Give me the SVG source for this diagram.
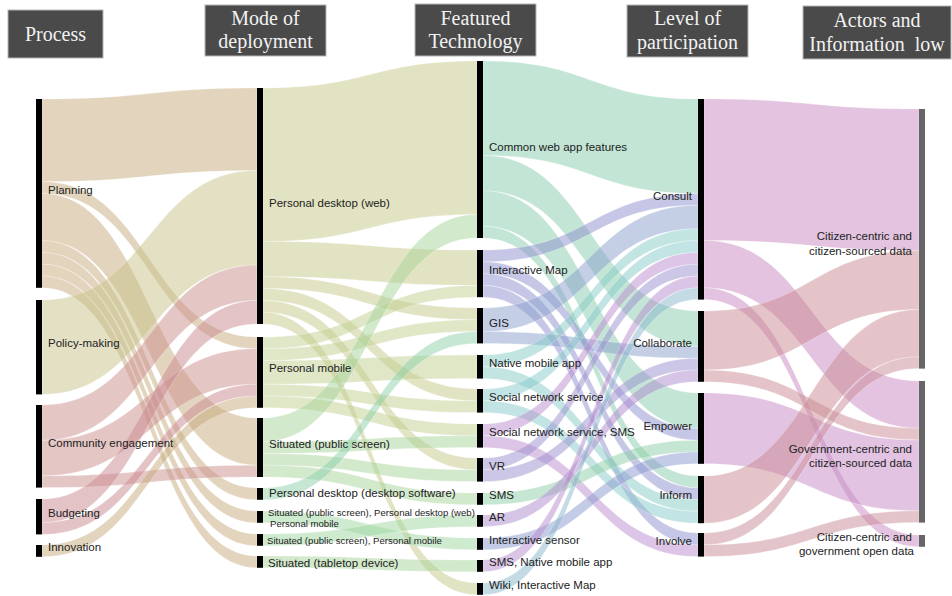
<svg xmlns="http://www.w3.org/2000/svg" width="952" height="596" viewBox="0 0 952 596">
<style>
.lk path{fill-opacity:0.5;stroke:#fff;stroke-width:0.5;stroke-opacity:0.5}
.bar{fill:#000}
.abar{fill:#666}
.lb{font-family:"Liberation Sans",Arial,sans-serif;font-size:11.5px;fill:#222}
.sm{font-size:9.6px}
.end{text-anchor:end}
.hb{fill:#4a4a4a;stroke:#b5b5b5;stroke-width:1}
.ht{font-family:"Liberation Serif","Times New Roman",serif;font-size:20px;fill:#f2f2f2;text-anchor:middle}
.pl{fill:#c5aa7c}.po{fill:#c8c28a}.co{fill:#ca8d8c}.bu{fill:#c98790}.in{fill:#c5aa7c}
.pdw{fill:#c6c886}.pm{fill:#bfd08f}.sps{fill:#a8d39a}.pdd{fill:#8ccfa8}.spd{fill:#9ed6a0}.spm{fill:#9ed6a0}.tab{fill:#a8d39a}
.cwa{fill:#86cbab}.im{fill:#8d90cd}.gis{fill:#8aa0cd}.nma{fill:#86cbc6}.sns{fill:#86c9c9}.ss{fill:#b98bcd}.vr{fill:#9a90cd}.sms{fill:#8ccda6}.ar{fill:#ad89cd}.sen{fill:#8a98cd}.smn{fill:#b58bcd}.wiki{fill:#8ab8cd}
.cons{fill:#c787c0}.coll{fill:#ca8a92}.emp{fill:#c589c6}.inf{fill:#ca8a94}.inv{fill:#ca8a98}
</style>
<rect width="952" height="596" fill="#fff"/>
<g id="headers">
<g id="h-process"><rect class="hb" x="8" y="10" width="95" height="48"/><text class="ht" x="55.5" y="41">Process</text></g>
<g id="h-mode"><rect class="hb" x="205" y="5" width="121" height="51"/><text class="ht" x="265.5" y="25">Mode of</text><text class="ht" x="265.5" y="48">deployment</text></g>
<g id="h-tech"><rect class="hb" x="415" y="4" width="121" height="52"/><text class="ht" x="475.5" y="25">Featured</text><text class="ht" x="475.5" y="48">Technology</text></g>
<g id="h-level"><rect class="hb" x="627" y="5" width="121" height="52"/><text class="ht" x="687.5" y="25">Level of</text><text class="ht" x="687.5" y="49">participation</text></g>
<g id="h-actors"><rect class="hb" x="803" y="6" width="148" height="53"/><text class="ht" x="877" y="27">Actors and</text><text class="ht" x="877" y="51" style="white-space:pre">Information  low</text></g>
</g>
<g id="links" class="lk">
<path class="pl" d="M42,99C149.5,99 149.5,88 257,88L257,170.6C149.5,170.6 149.5,181.6 42,181.6Z"/>
<path class="pl" d="M42,181.6C149.5,181.6 149.5,337 257,337L257,348.8C149.5,348.8 149.5,193.4 42,193.4Z"/>
<path class="pl" d="M42,193.4C149.5,193.4 149.5,418 257,418L257,465.2C149.5,465.2 149.5,240.6 42,240.6Z"/>
<path class="pl" d="M42,240.6C149.5,240.6 149.5,488 257,488L257,499.8C149.5,499.8 149.5,252.4 42,252.4Z"/>
<path class="pl" d="M42,252.4C149.5,252.4 149.5,511 257,511L257,522.8C149.5,522.8 149.5,264.2 42,264.2Z"/>
<path class="pl" d="M42,264.2C149.5,264.2 149.5,534 257,534L257,545.8C149.5,545.8 149.5,276 42,276Z"/>
<path class="pl" d="M42,276C149.5,276 149.5,556 257,556L257,567.8C149.5,567.8 149.5,287.8 42,287.8Z"/>
<path class="po" d="M42,300C149.5,300 149.5,170.6 257,170.6L257,265C149.5,265 149.5,394.4 42,394.4Z"/>
<path class="co" d="M42,405C149.5,405 149.5,265 257,265L257,300.4C149.5,300.4 149.5,440.4 42,440.4Z"/>
<path class="co" d="M42,440.4C149.5,440.4 149.5,348.8 257,348.8L257,384.2C149.5,384.2 149.5,475.8 42,475.8Z"/>
<path class="co" d="M42,475.8C149.5,475.8 149.5,465.2 257,465.2L257,477C149.5,477 149.5,487.6 42,487.6Z"/>
<path class="bu" d="M42,499C149.5,499 149.5,300.4 257,300.4L257,324C149.5,324 149.5,522.6 42,522.6Z"/>
<path class="bu" d="M42,522.6C149.5,522.6 149.5,384.2 257,384.2L257,396C149.5,396 149.5,534.4 42,534.4Z"/>
<path class="in" d="M42,545C149.5,545 149.5,396 257,396L257,407.8C149.5,407.8 149.5,556.8 42,556.8Z"/>
<path class="pdw" d="M263,88C370,88 370,61 477,61L477,214.4C370,214.4 370,241.4 263,241.4Z"/>
<path class="pdw" d="M263,241.4C370,241.4 370,250 477,250L477,285.4C370,285.4 370,276.8 263,276.8Z"/>
<path class="pdw" d="M263,276.8C370,276.8 370,308 477,308L477,319.8C370,319.8 370,288.6 263,288.6Z"/>
<path class="pdw" d="M263,288.6C370,288.6 370,389 477,389L477,400.8C370,400.8 370,300.4 263,300.4Z"/>
<path class="pdw" d="M263,300.4C370,300.4 370,458 477,458L477,469.8C370,469.8 370,312.2 263,312.2Z"/>
<path class="pdw" d="M263,312.2C370,312.2 370,583 477,583L477,594.8C370,594.8 370,324 263,324Z"/>
<path class="pm" d="M263,337C370,337 370,285.4 477,285.4L477,297.2C370,297.2 370,348.8 263,348.8Z"/>
<path class="pm" d="M263,348.8C370,348.8 370,319.8 477,319.8L477,331.6C370,331.6 370,360.6 263,360.6Z"/>
<path class="pm" d="M263,360.6C370,360.6 370,355 477,355L477,378.6C370,378.6 370,384.2 263,384.2Z"/>
<path class="pm" d="M263,384.2C370,384.2 370,400.8 477,400.8L477,412.6C370,412.6 370,396 263,396Z"/>
<path class="pm" d="M263,396C370,396 370,424 477,424L477,435.8C370,435.8 370,407.8 263,407.8Z"/>
<path class="sps" d="M263,418C370,418 370,214.4 477,214.4L477,238C370,238 370,441.6 263,441.6Z"/>
<path class="sps" d="M263,441.6C370,441.6 370,435.8 477,435.8L477,447.6C370,447.6 370,453.4 263,453.4Z"/>
<path class="sps" d="M263,453.4C370,453.4 370,469.8 477,469.8L477,481.6C370,481.6 370,465.2 263,465.2Z"/>
<path class="sps" d="M263,465.2C370,465.2 370,493 477,493L477,504.8C370,504.8 370,477 263,477Z"/>
<path class="pdd" d="M263,488C370,488 370,331.6 477,331.6L477,343.4C370,343.4 370,499.8 263,499.8Z"/>
<path class="spd" d="M263,511C370,511 370,538 477,538L477,549.8C370,549.8 370,522.8 263,522.8Z"/>
<path class="spm" d="M263,534C370,534 370,515 477,515L477,526.8C370,526.8 370,545.8 263,545.8Z"/>
<path class="tab" d="M263,556C370,556 370,560 477,560L477,571.8C370,571.8 370,567.8 263,567.8Z"/>
<path class="cwa" d="M483,61C590.5,61 590.5,99 698,99L698,193.4C590.5,193.4 590.5,155.4 483,155.4Z"/>
<path class="cwa" d="M483,155.4C590.5,155.4 590.5,311 698,311L698,346.4C590.5,346.4 590.5,190.8 483,190.8Z"/>
<path class="cwa" d="M483,190.8C590.5,190.8 590.5,393 698,393L698,428.4C590.5,428.4 590.5,226.2 483,226.2Z"/>
<path class="cwa" d="M483,226.2C590.5,226.2 590.5,476 698,476L698,487.8C590.5,487.8 590.5,238 483,238Z"/>
<path class="im" d="M483,250C590.5,250 590.5,193.4 698,193.4L698,205.2C590.5,205.2 590.5,261.8 483,261.8Z"/>
<path class="im" d="M483,261.8C590.5,261.8 590.5,428.4 698,428.4L698,440.2C590.5,440.2 590.5,273.6 483,273.6Z"/>
<path class="im" d="M483,273.6C590.5,273.6 590.5,487.8 698,487.8L698,499.6C590.5,499.6 590.5,285.4 483,285.4Z"/>
<path class="im" d="M483,285.4C590.5,285.4 590.5,533 698,533L698,544.8C590.5,544.8 590.5,297.2 483,297.2Z"/>
<path class="gis" d="M483,308C590.5,308 590.5,205.2 698,205.2L698,228.8C590.5,228.8 590.5,331.6 483,331.6Z"/>
<path class="gis" d="M483,331.6C590.5,331.6 590.5,346.4 698,346.4L698,358.2C590.5,358.2 590.5,343.4 483,343.4Z"/>
<path class="nma" d="M483,355C590.5,355 590.5,228.8 698,228.8L698,240.6C590.5,240.6 590.5,366.8 483,366.8Z"/>
<path class="nma" d="M483,366.8C590.5,366.8 590.5,499.6 698,499.6L698,511.4C590.5,511.4 590.5,378.6 483,378.6Z"/>
<path class="sns" d="M483,389C590.5,389 590.5,240.6 698,240.6L698,252.4C590.5,252.4 590.5,400.8 483,400.8Z"/>
<path class="sns" d="M483,400.8C590.5,400.8 590.5,511.4 698,511.4L698,523.2C590.5,523.2 590.5,412.6 483,412.6Z"/>
<path class="ss" d="M483,424C590.5,424 590.5,252.4 698,252.4L698,264.2C590.5,264.2 590.5,435.8 483,435.8Z"/>
<path class="ss" d="M483,435.8C590.5,435.8 590.5,544.8 698,544.8L698,556.6C590.5,556.6 590.5,447.6 483,447.6Z"/>
<path class="vr" d="M483,458C590.5,458 590.5,264.2 698,264.2L698,276C590.5,276 590.5,469.8 483,469.8Z"/>
<path class="vr" d="M483,469.8C590.5,469.8 590.5,358.2 698,358.2L698,370C590.5,370 590.5,481.6 483,481.6Z"/>
<path class="sms" d="M483,493C590.5,493 590.5,440.2 698,440.2L698,452C590.5,452 590.5,504.8 483,504.8Z"/>
<path class="ar" d="M483,515C590.5,515 590.5,370 698,370L698,381.8C590.5,381.8 590.5,526.8 483,526.8Z"/>
<path class="sen" d="M483,538C590.5,538 590.5,452 698,452L698,463.8C590.5,463.8 590.5,549.8 483,549.8Z"/>
<path class="smn" d="M483,560C590.5,560 590.5,276 698,276L698,287.8C590.5,287.8 590.5,571.8 483,571.8Z"/>
<path class="wiki" d="M483,583C590.5,583 590.5,287.8 698,287.8L698,299.6C590.5,299.6 590.5,594.8 483,594.8Z"/>
<path class="cons" d="M704,99C811.5,99 811.5,109 919,109L919,250.6C811.5,250.6 811.5,240.6 704,240.6Z"/>
<path class="cons" d="M704,240.6C811.5,240.6 811.5,381 919,381L919,428.2C811.5,428.2 811.5,287.8 704,287.8Z"/>
<path class="cons" d="M704,287.8C811.5,287.8 811.5,535 919,535L919,546.8C811.5,546.8 811.5,299.6 704,299.6Z"/>
<path class="coll" d="M704,311C811.5,311 811.5,250.6 919,250.6L919,309.6C811.5,309.6 811.5,370 704,370Z"/>
<path class="coll" d="M704,370C811.5,370 811.5,428.2 919,428.2L919,440C811.5,440 811.5,381.8 704,381.8Z"/>
<path class="emp" d="M704,393C811.5,393 811.5,440 919,440L919,510.8C811.5,510.8 811.5,463.8 704,463.8Z"/>
<path class="inf" d="M704,476C811.5,476 811.5,309.6 919,309.6L919,356.8C811.5,356.8 811.5,523.2 704,523.2Z"/>
<path class="inv" d="M704,533C811.5,533 811.5,356.8 919,356.8L919,368.6C811.5,368.6 811.5,544.8 704,544.8Z"/>
<path class="inv" d="M704,544.8C811.5,544.8 811.5,510.8 919,510.8L919,522.6C811.5,522.6 811.5,556.6 704,556.6Z"/>
</g>
<g id="n-planning"><rect class="bar" x="36" y="99" width="6" height="188.8"/><text class="lb" x="48" y="194">Planning</text></g>
<g id="n-policy"><rect class="bar" x="36" y="300" width="6" height="94.4"/><text class="lb" x="48" y="347">Policy-making</text></g>
<g id="n-community"><rect class="bar" x="36" y="405" width="6" height="82.6"/><text class="lb" x="48" y="447">Community engagement</text></g>
<g id="n-budgeting"><rect class="bar" x="36" y="499" width="6" height="35.4"/><text class="lb" x="48" y="517">Budgeting</text></g>
<g id="n-innovation"><rect class="bar" x="36" y="545" width="6" height="11.8"/><text class="lb" x="48" y="551">Innovation</text></g>
<g id="n-pdweb"><rect class="bar" x="257" y="88" width="6" height="236"/><text class="lb" x="269" y="207">Personal desktop (web)</text></g>
<g id="n-pm"><rect class="bar" x="257" y="337" width="6" height="70.8"/><text class="lb" x="269" y="372">Personal mobile</text></g>
<g id="n-sps"><rect class="bar" x="257" y="418" width="6" height="59"/><text class="lb" x="269" y="448">Situated (public screen)</text></g>
<g id="n-pdd"><rect class="bar" x="257" y="488" width="6" height="11.8"/><text class="lb" x="269" y="497">Personal desktop (desktop software)</text></g>
<g id="n-spdpm"><rect class="bar" x="257" y="511" width="6" height="11.8"/><text class="lb sm" x="268" y="515.5">Situated (public screen), Personal desktop (web)</text><text class="lb sm" x="270" y="527">Personal mobile</text></g>
<g id="n-spm"><rect class="bar" x="257" y="534" width="6" height="11.8"/><text class="lb sm" x="267" y="543.5">Situated (public screen), Personal mobile</text></g>
<g id="n-tabletop"><rect class="bar" x="257" y="556" width="6" height="11.8"/><text class="lb" x="268" y="567">Situated (tabletop device)</text></g>
<g id="n-cwa"><rect class="bar" x="477" y="61" width="6" height="177"/><text class="lb" x="489" y="151">Common web app features</text></g>
<g id="n-im"><rect class="bar" x="477" y="250" width="6" height="47.2"/><text class="lb" x="489" y="274">Interactive Map</text></g>
<g id="n-gis"><rect class="bar" x="477" y="308" width="6" height="35.4"/><text class="lb" x="489" y="327">GIS</text></g>
<g id="n-nma"><rect class="bar" x="477" y="355" width="6" height="23.6"/><text class="lb" x="489" y="367">Native mobile app</text></g>
<g id="n-sns"><rect class="bar" x="477" y="389" width="6" height="23.6"/><text class="lb" x="489" y="401">Social network service</text></g>
<g id="n-snssms"><rect class="bar" x="477" y="424" width="6" height="23.6"/><text class="lb" x="489" y="435.7">Social network service, SMS</text></g>
<g id="n-vr"><rect class="bar" x="477" y="458" width="6" height="23.6"/><text class="lb" x="489" y="470">VR</text></g>
<g id="n-sms"><rect class="bar" x="477" y="493" width="6" height="11.8"/><text class="lb" x="489" y="499">SMS</text></g>
<g id="n-ar"><rect class="bar" x="477" y="515" width="6" height="11.8"/><text class="lb" x="489" y="520.7">AR</text></g>
<g id="n-sensor"><rect class="bar" x="477" y="538" width="6" height="11.8"/><text class="lb" x="489" y="544">Interactive sensor</text></g>
<g id="n-smsnma"><rect class="bar" x="477" y="560" width="6" height="11.8"/><text class="lb" x="489" y="566">SMS, Native mobile app</text></g>
<g id="n-wiki"><rect class="bar" x="477" y="583" width="6" height="11.8"/><text class="lb" x="489" y="589">Wiki, Interactive Map</text></g>
<g id="n-consult"><rect class="bar" x="698" y="99" width="6" height="200.6"/><text class="lb end" x="692" y="200">Consult</text></g>
<g id="n-collaborate"><rect class="bar" x="698" y="311" width="6" height="70.8"/><text class="lb end" x="692" y="346.7">Collaborate</text></g>
<g id="n-empower"><rect class="bar" x="698" y="393" width="6" height="70.8"/><text class="lb end" x="692" y="429.7">Empower</text></g>
<g id="n-inform"><rect class="bar" x="698" y="476" width="6" height="47.2"/><text class="lb end" x="692" y="499">Inform</text></g>
<g id="n-involve"><rect class="bar" x="698" y="533" width="6" height="23.6"/><text class="lb end" x="692" y="544.7">Involve</text></g>
<g id="n-cccs"><rect class="abar" x="919" y="109" width="6" height="259.6"/><text class="lb end" x="912" y="240">Citizen-centric and</text><text class="lb end" x="912" y="254.7">citizen-sourced data</text></g>
<g id="n-gccs"><rect class="abar" x="919" y="381" width="6" height="141.6"/><text class="lb end" x="912" y="453.3">Government-centric and</text><text class="lb end" x="912" y="467.3">citizen-sourced data</text></g>
<g id="n-ccgo"><rect class="abar" x="919" y="535" width="6" height="11.8"/><text class="lb end" x="912" y="541.3">Citizen-centric and</text><text class="lb end" x="914" y="554.7">government open data</text></g>
</svg>
